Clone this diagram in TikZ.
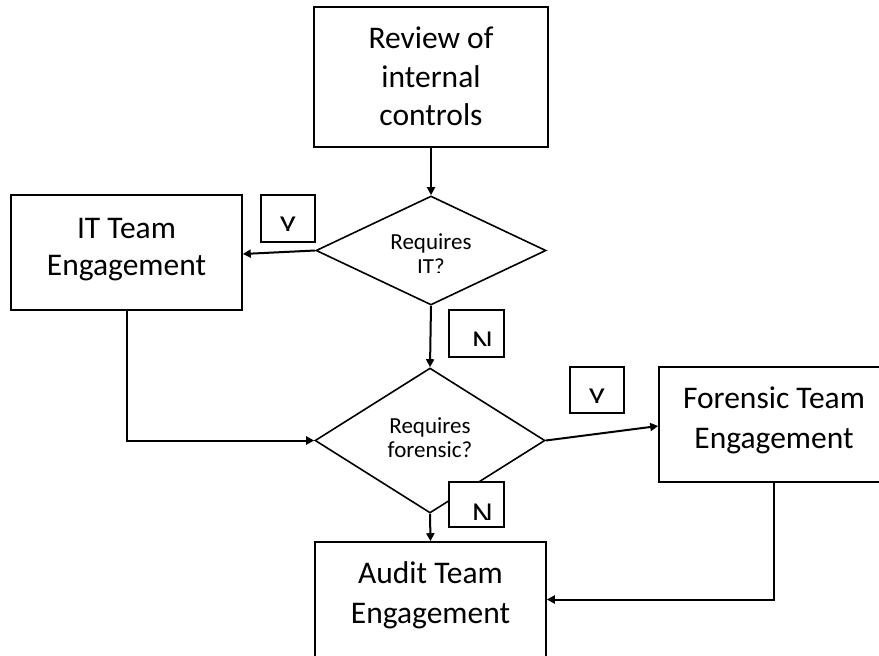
\documentclass[tikz,border=0pt]{standalone}
\usepackage{fontspec}
\setmainfont{Carlito}
\usetikzlibrary{shapes.geometric,arrows.meta}
\begin{document}
\begin{tikzpicture}[x=1pt,y=-1pt,
  box/.style={draw, line width=1.6pt, rectangle, inner sep=0pt, align=center, font=\fontsize{31.5}{40.5}\selectfont},
  dia/.style={draw, line width=1.6pt, diamond, inner sep=0pt},
  dtext/.style={anchor=base, font=\fontsize{23}{25}\selectfont, inner sep=0pt},
  lbl/.style={draw, fill=white, line width=1.6pt, rectangle, inner sep=0pt},
  ltext/.style={anchor=base, font=\fontsize{32}{32}\selectfont, inner sep=0pt},
  arr/.style={line width=2pt, -{Triangle[length=8pt,width=8pt]}},
  conn/.style={line width=2pt}]

\clip (0,0) rectangle (879,656);
\fill[white] (0,0) rectangle (879,656);

% boxes
\node[box, minimum width=234pt, minimum height=140pt, text height=97.6pt, text depth=0pt, font=\fontsize{31.5}{38.8}\selectfont] (rev) at (431,77) {Review of\\internal\\controls};
\node[box, minimum width=231pt, minimum height=115pt, text height=57.5pt, text depth=11pt, font=\fontsize{31.5}{37.5}\selectfont] (it) at (126.5,252.5) {IT Team\\Engagement};
\node[box, minimum width=230pt, minimum height=115pt, text height=60.5pt, text depth=12.4pt] (fore) at (774,424.5) {Forensic Team\\Engagement};
\node[box, minimum width=231pt, minimum height=115pt, text height=60.5pt, text depth=12pt] (aud) at (430.5,599.5) {Audit Team\\Engagement};

% decisions
\node[dia, minimum width=230pt, minimum height=109pt] (d1) at (431,250.5) {};
\node[dia, minimum width=230pt, minimum height=145pt] (d2) at (430,440.5) {};

\node[dtext] (d1a) at ([yshift=1.5pt]d1.center) {Requires};
\begin{scope}
  \clip (d1.west) rectangle ([yshift=-21.5pt]d1.east);
  \node[dtext] (d1b) at ([yshift=-23.5pt]d1.center) {IT?};
\end{scope}
\node[dtext] (d2a) at ([yshift=7.5pt]d2.center) {Requires};
\node[dtext] (d2b) at ([yshift=-17pt]d2.center) {forensic?};

% connectors
\draw[arr] (rev.south) -- (d1.north);
\draw[arr] (d1.west) -- ([yshift=-1.5pt]it.east);
\draw[arr] (d1.south) -- (d2.north);
\draw[arr] (it.south) |- (d2.west);
\draw[arr] (d2.east) -- ([yshift=-1.5pt]fore.west);
\draw[arr] (d2.south) -- (aud.north);
\draw[arr] (fore.south) |- (aud.east);

% labels
\node[lbl, minimum width=54pt, minimum height=47pt] (y1) at (288,218.5) {};
\node[lbl, minimum width=55pt, minimum height=47pt] (n1) at (476.5,333.5) {};
\node[lbl, minimum width=54pt, minimum height=46pt] (y2) at (597,390) {};
\node[lbl, minimum width=55pt, minimum height=45pt] (n2) at (476.5,504.5) {};

\begin{scope}
  \clip (y1.north west) rectangle ([yshift=-36pt]y1.north east);
  \node[ltext] (ty1) at ([yshift=-43.6pt]y1.north) {Y};
\end{scope}
\begin{scope}
  \clip (n1.north west) rectangle ([yshift=-36pt]n1.north east);
  \node[ltext] (tn1) at ([xshift=6pt,yshift=-43.6pt]n1.north) {N};
\end{scope}
\begin{scope}
  \clip (y2.north west) rectangle ([yshift=-36pt]y2.north east);
  \node[ltext] (ty2) at ([yshift=-43.6pt]y2.north) {Y};
\end{scope}
\begin{scope}
  \clip (n2.north west) rectangle ([yshift=-38pt]n2.north east);
  \node[ltext] (tn2) at ([xshift=6pt,yshift=-43.6pt]n2.north) {N};
\end{scope}
\end{tikzpicture}
\end{document}
